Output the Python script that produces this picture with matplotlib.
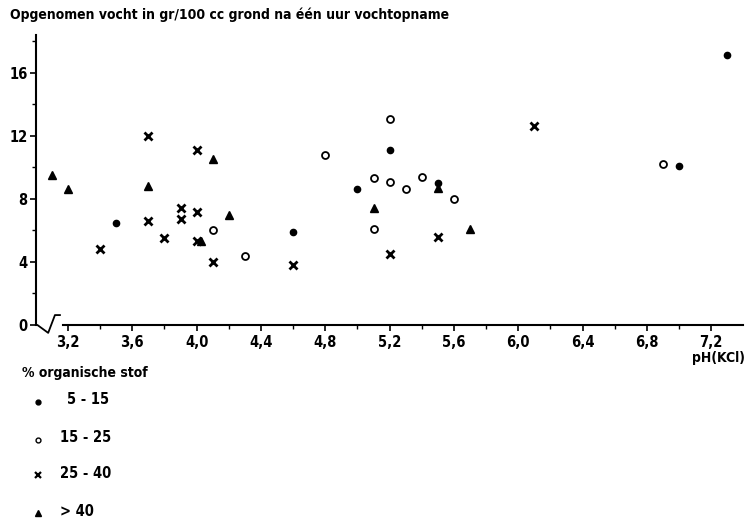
#!/usr/bin/env python3
import numpy as np
from matplotlib import pyplot as plt
from matplotlib.lines import Line2D

plt.rcParams['font.family'] = ['DejaVu Sans']
plt.rcParams['font.weight'] = 'bold'
plt.rcParams['font.stretch'] = 'condensed'

# pH(KCl) vs opgenomen vocht, per klasse organische stof
dot_x = [3.5, 4.6, 5.0, 5.2, 5.5, 7.0, 7.3]
dot_y = [6.5, 5.9, 8.6, 11.1, 9.0, 10.1, 17.1]

open_x = [4.1, 4.3, 4.8, 5.1, 5.1, 5.2, 5.2, 5.3, 5.4, 5.6, 6.9]
open_y = [6.0, 4.4, 10.8, 9.3, 6.1, 13.1, 9.1, 8.6, 9.4, 8.0, 10.2]

cross_x = [3.4, 3.7, 3.7, 3.8, 3.9, 3.9, 4.0, 4.0, 4.0, 4.1, 4.6, 5.2, 5.5, 6.1]
cross_y = [4.8, 6.6, 12.0, 5.5, 7.4, 6.7, 7.2, 11.1, 5.3, 4.0, 3.8, 4.5, 5.6, 12.6]

tri_x = [3.1, 3.2, 3.7, 4.03, 4.1, 4.2, 5.1, 5.5, 5.7]
tri_y = [9.5, 8.6, 8.8, 5.35, 10.5, 7.0, 7.4, 8.7, 6.1]

classes = ['5 - 15', '15 - 25', '25 - 40', '> 40']
xticks = [3.2, 3.6, 4.0, 4.4, 4.8, 5.2, 5.6, 6.0, 6.4, 6.8, 7.2]
yticks = [0, 4, 8, 12, 16]


def main():
    fig = plt.figure(figsize=(7.49, 5.22), dpi=100)
    ax = fig.add_axes([0.0478, 0.3774, 0.9447, 0.5556])

    k = 'black'
    ax.plot(dot_x, dot_y, 'o', color=k, ms=4.5, clip_on=False)
    ax.plot(open_x, open_y, 'o', mfc='white', mec=k, mew=1.3, ms=5, clip_on=False)
    ax.plot(cross_x, cross_y, 'x', color=k, mew=2.0, ms=6, clip_on=False)
    ax.plot(tri_x, tri_y, '^', color=k, ms=5.5, clip_on=False)

    ax.set_xlim(3.0, 7.4)
    ax.set_ylim(0, 18.4)

    for s in ['top', 'right']:
        ax.spines[s].set_visible(False)
    ax.spines['left'].set_linewidth(1.5)
    ax.spines['bottom'].set_linewidth(1.5)
    ax.spines['bottom'].set_bounds(3.167, 7.4)

    # axis break near the origin
    ax.add_line(Line2D([3.0, 3.01, 3.077, 3.119, 3.15],
                       [0, 0, -0.5, 0.63, 0.63],
                       color=k, lw=1.3, clip_on=False))

    ax.set_xticks(xticks)
    ax.set_xticklabels([('%.1f' % t).replace('.', ',') for t in xticks])
    ax.set_xticks(np.array(xticks[:-1]) + 0.2, minor=True)
    ax.set_yticks(yticks)
    ax.set_yticks([2, 6, 10, 14, 18], minor=True)
    ax.tick_params(axis='both', which='major', direction='out', length=4,
                   width=1.2, labelsize=10.5, pad=3)
    ax.tick_params(axis='both', which='minor', direction='out', length=3,
                   width=1.0)
    ax.tick_params(axis='y', which='major', pad=2)
    for lab in ax.get_xticklabels() + ax.get_yticklabels():
        lab.set_fontweight('bold')

    fig.text(10 / 749, 1 - 15 / 522,
             'Opgenomen vocht in gr/100 cc grond na één uur vochtopname',
             fontsize=10, fontweight='bold', va='center', ha='left')
    fig.text(745 / 749, 1 - 358 / 522, 'pH(KCl)', fontsize=10,
             fontweight='bold', va='center', ha='right')

    # legend
    fig.text(22 / 749, 1 - 373 / 522, '% organische stof', fontsize=10,
             fontweight='bold', va='center', ha='left')
    ys = [402, 440, 475, 513]
    tx = [67, 60, 60, 60]
    styles = [dict(marker='o', color=k, ms=3.5),
              dict(marker='o', mfc='white', mec=k, mew=1.0, ms=3.5),
              dict(marker='x', color=k, mew=1.6, ms=4.5),
              dict(marker='^', color=k, ms=4)]
    for yy, xx, lab, st in zip(ys, tx, classes, styles):
        fig.add_artist(Line2D([38 / 749], [1 - yy / 522], ls='none',
                              transform=fig.transFigure, **st))
        fig.text(xx / 749, 1 - (yy - 2) / 522, lab, fontsize=10.5,
                 fontweight='bold', va='center', ha='left')

    plt.savefig('out.png', dpi=100)
    plt.clf()


if __name__ == '__main__':
    main()
